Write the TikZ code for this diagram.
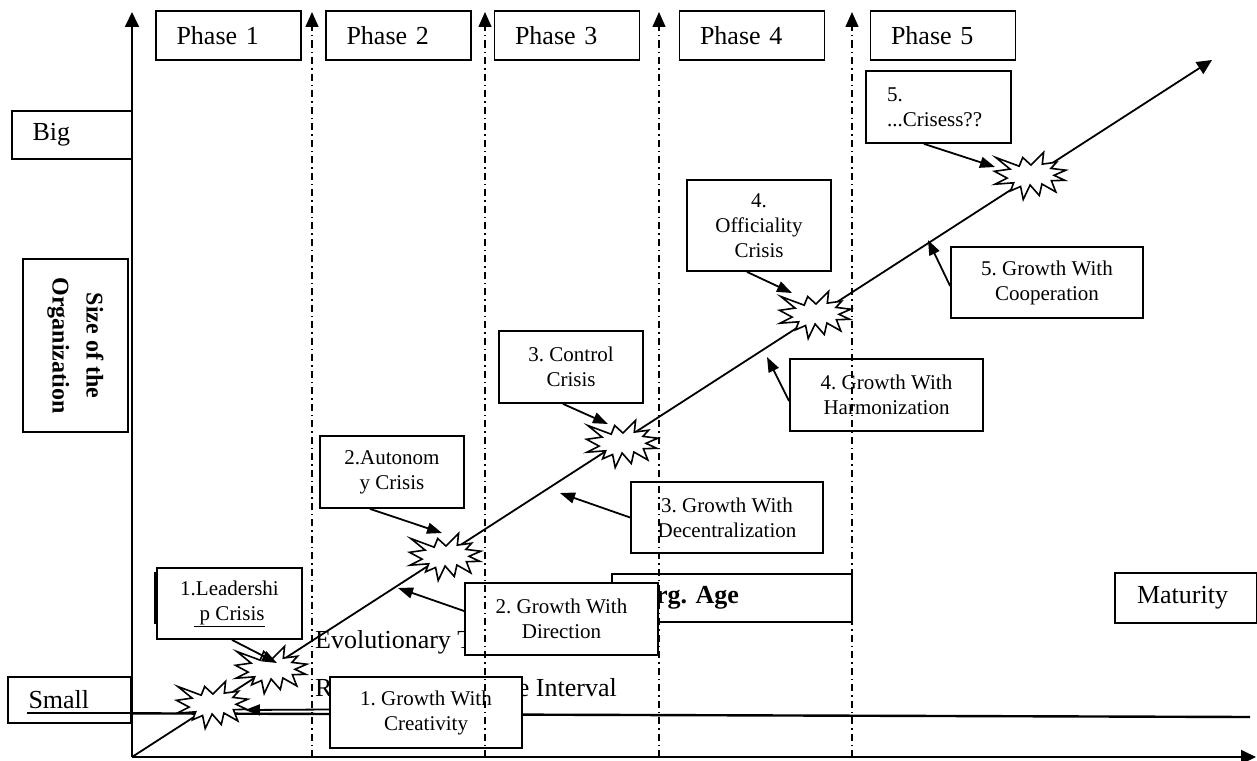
\documentclass[tikz,border=0pt]{standalone}
\usepackage{fontspec}
\setmainfont{Liberation Serif}
\usetikzlibrary{arrows.meta}
\frenchspacing
\def\boxfont{\fontsize{21}{25}\selectfont}
\def\labelfont{\fontsize{26}{31}\selectfont}
\def\sizefont{\fontsize{24}{34}\selectfont\bfseries}
\def\boom(#1,#2){\draw[boomline, shift={(#1,#2)}] (0,-10.9) -- (12.6,-23.5) -- (11.3,-11.9) -- (25.6,-13.8) -- (19.9,-7.6) -- (34.8,-5.8) -- (23,-0.7) -- (33.7,4.3) -- (20.4,4.7) -- (24.8,15.9) -- (10.9,8) -- (8.3,19.5) -- (-0.9,9) -- (-7.8,23.5) -- (-10.4,10.5) -- (-20.4,14.8) -- (-17.3,6.8) -- (-36,8.2) -- (-23.9,2.1) -- (-36.5,-4.7) -- (-20.9,-6.9) -- (-35.2,-18.5) -- (-11.8,-9.8) -- (-8.3,-18.5) -- cycle;}
\tikzset{
	crisisbox/.style={draw, fill=white, line width=1.8pt, inner sep=0pt, align=center, font=\boxfont},
	phasebox/.style={draw, fill=white, line width=1.8pt, inner ysep=0pt, inner xsep=20.5pt, align=left, font=\labelfont},
	boomline/.style={fill=white, line width=1.6pt, line join=miter},
	phaseline/.style={line width=1.5pt, dash pattern=on 7pt off 4pt on 1.5pt off 4pt, -{Triangle[length=15pt,width=13pt]}},
	axis/.style={line width=1.8pt, -{Triangle[length=15pt,width=14pt]}},
	pointer/.style={line width=1.8pt, -{Triangle[length=15pt,width=11pt]}}
}

\begin{document}
\begin{tikzpicture}[x={(1pt,0)}, y={(0,-1pt)}]
		%%%%% START %%%%%
		\useasboundingbox (0,0) rectangle (1257,760);
		
		\coordinate (o) at (132,757);
		\draw[axis] (o) -- (132,12);
		\draw[axis] (o) -- (1256,757);
		\draw[axis] (o) -- (1212,60);
		
		\draw[line width=2.4pt] (27,713) -- (1250,717);
		
		\node[anchor=base west, inner sep=0pt, font=\labelfont] (evo) at (315,648) {Evolutionary T};
		\node[anchor=base west, inner sep=0pt, font=\labelfont] (rev) at (315,696) {R};
		\node[anchor=base east, inner sep=0pt, font=\labelfont] (interval) at (617,696) {e Interval};
		
		\boom(213,705);
		\boom(272,670);
		\boom(446,557);
		\boom(623,444);
		\boom(816,315);
		\boom(1031,176);
		
		\foreach \n/\cx in {1/228.5, 2/398.5, 3/567, 4/752, 5/943}
			\node[phasebox, text width=104pt, minimum height=49] (phase\n) at (\cx,35.5) {Phase \n};
		
		\node[phasebox, text width=79pt, minimum height=48] (big) at (72,135) {Big};
		\node[phasebox, text width=82pt, minimum height=46] (small) at (69.5,700) {Small};
		\node[crisisbox, rotate=-90, minimum width=173, minimum height=105, font=\sizefont] (size) at (75.5,345.5) {Size of the\\Organization};
		\draw[line width=2.4pt] (27,713) -- (131,713);
		
		\node[phasebox, text width=98pt, inner xsep=22pt, minimum height=50] (matur) at (1186,598) {Maturity};
		\node[phasebox, text width=152pt, inner xsep=44pt, minimum height=48, font=\labelfont\bfseries] (orgage) at (732,598) {rg. Age};
		\draw[fill=white, line width=1.8pt] (155,573) rectangle (262,623);
		
		% crises
		\node[crisisbox, minimum width=145, minimum height=71] (lead) at (229.5,603.5) {1.Leadershi\\\underline{\ p Crisis}};
		\node[crisisbox, minimum width=144, minimum height=72] (auto) at (392,472) {2.Autonom\\y Crisis};
		\node[crisisbox, minimum width=144, minimum height=72] (ctrl) at (571,367) {3. Control\\Crisis};
		\node[crisisbox, minimum width=144, minimum height=91] (offi) at (759,225.5) {4.\\Officiality\\Crisis};
		\node[crisisbox, align=left, text width=103pt, inner xsep=21pt, minimum height=72] (cris5) at (938.5,107) {5.\\...Crisess??};
		
		% growth
		\node[crisisbox, minimum width=192, minimum height=71] (creat) at (426,712.5) {1. Growth With\\Creativity};
		\node[crisisbox, minimum width=193, minimum height=72] (direc) at (561.5,619) {2. Growth With\\Direction};
		\node[crisisbox, minimum width=192, minimum height=71] (decen) at (727,517.5) {3. Growth With\\Decentralization};
		\node[crisisbox, minimum width=193, minimum height=72] (harmo) at (886.5,395) {4. Growth With\\Harmonization};
		\node[crisisbox, minimum width=192, minimum height=71] (coop) at (1047,282.5) {5. Growth With\\Cooperation};
		
		\coordinate (t1) at (245,710);
		\coordinate (t1b) at (277,663);
		\coordinate (t2) at (442,533);
		\coordinate (t2b) at (398,588);
		\coordinate (t3) at (608,424);
		\coordinate (t3b) at (560,493);
		\coordinate (t4) at (792,293);
		\coordinate (t4b) at (767,357);
		\coordinate (t5) at (995,167);
		\coordinate (t5b) at (928,240);
		
		\draw[pointer] ([xshift=2.5pt]lead.south) -- (t1b);
		\draw[pointer] ([xshift=-22pt]auto.south) -- (t2);
		\draw[pointer] ([xshift=-8pt]ctrl.south) -- (t3);
		\draw[pointer] ([xshift=-12pt]offi.south) -- (t4);
		\draw[pointer] ([xshift=-14.5pt]cris5.south) -- (t5);
		
		\draw[pointer] ([yshift=3pt]creat.west) -- (t1);
		\draw[pointer] ([yshift=8pt]direc.west) -- (t2b);
		\draw[pointer] (decen.west) -- (t3b);
		\draw[pointer] ([yshift=-6pt]harmo.west) -- (t4b);
		\draw[pointer] ([yshift=-3.5pt]coop.west) -- (t5b);
		
		\foreach \px in {312,485,659,852}
			\draw[phaseline] (\px,757) -- (\px,12);
		
		%%%%% END %%%%%
\end{tikzpicture}
\end{document}
